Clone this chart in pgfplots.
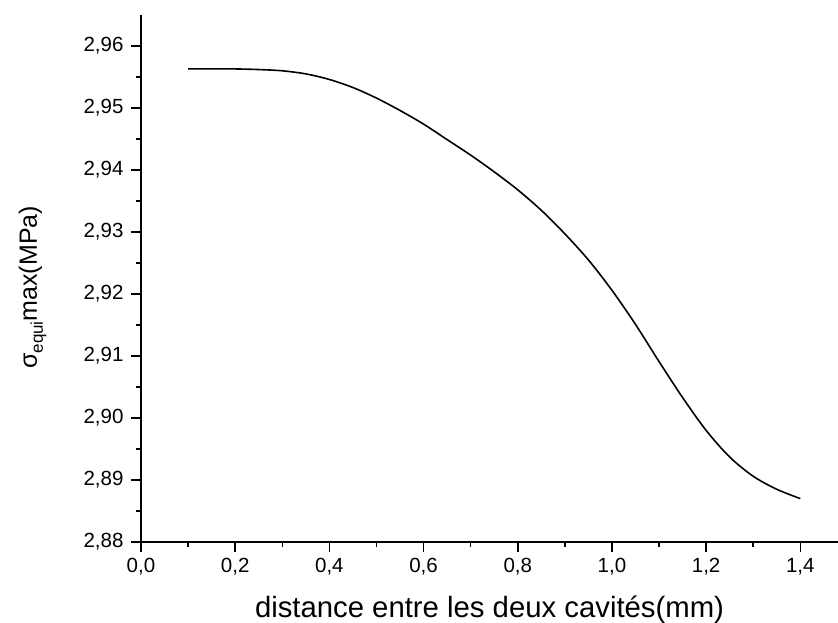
\documentclass[border=0pt]{standalone}
\usepackage{fontspec}
\setmainfont{Liberation Sans}
\usepackage{pgfplots}
\pgfplotsset{compat=1.18}
\usetikzlibrary{calc}
\begin{document}
\begin{tikzpicture}
\begin{axis}[
  scale only axis, width=697pt, height=527pt,
  xmin=0, xmax=1.48, ymin=2.88, ymax=2.965,
  axis lines=left,
  axis line style={-, line width=1.5pt, black},
  xtick={0,0.2,0.4,0.6,0.8,1.0,1.2,1.4},
  ytick={2.88,2.89,2.90,2.91,2.92,2.93,2.94,2.95,2.96},
  minor x tick num=1, minor y tick num=1,
  tick align=outside,
  major tick length=10pt, minor tick length=5pt,
  every tick/.style={line width=1.5pt, black},
  /pgf/number format/assume math mode=true,
  tick label style={font=\fontsize{20.5}{20.5}\selectfont},
  xticklabel style={yshift=-3pt, /pgf/number format/.cd, use comma, fixed, fixed zerofill, precision=1},
  yticklabel style={xshift=-4pt, /pgf/number format/.cd, use comma, fixed, fixed zerofill, precision=2},
  xlabel={distance entre les deux cavités(mm)},
  xlabel style={font=\fontsize{29.3}{29.3}\selectfont, at={(axis description cs:0.5,0)}, anchor=base, yshift=-76pt},
  ylabel={σ\raisebox{-6pt}{\fontsize{17}{17}\selectfont equi}max(MPa)},
  ylabel style={font=\fontsize{25}{25}\selectfont, at={(axis description cs:0,0.483)}, anchor=base, yshift=104pt},
]
\addplot[black, line width=1.6pt, smooth] coordinates {
(0.10,2.9563) (0.15,2.9563) (0.20,2.9563) (0.25,2.9562) (0.30,2.9560)
(0.35,2.9555) (0.40,2.9546) (0.45,2.9533) (0.50,2.9516) (0.55,2.9496)
(0.60,2.9474) (0.65,2.9449) (0.70,2.9424) (0.75,2.9397) (0.80,2.9368)
(0.85,2.9335) (0.90,2.9297) (0.95,2.9255) (1.00,2.9206) (1.05,2.9151)
(1.10,2.9091) (1.15,2.9033) (1.20,2.8980) (1.25,2.8937) (1.30,2.8906)
(1.35,2.8885) (1.40,2.8870)
};
\end{axis}
\pgfresetboundingbox
\path ($(current axis.south west)+(-141pt,-81pt)$) rectangle ($(current axis.north east)+(0pt,15pt)$);
\end{tikzpicture}
\end{document}
